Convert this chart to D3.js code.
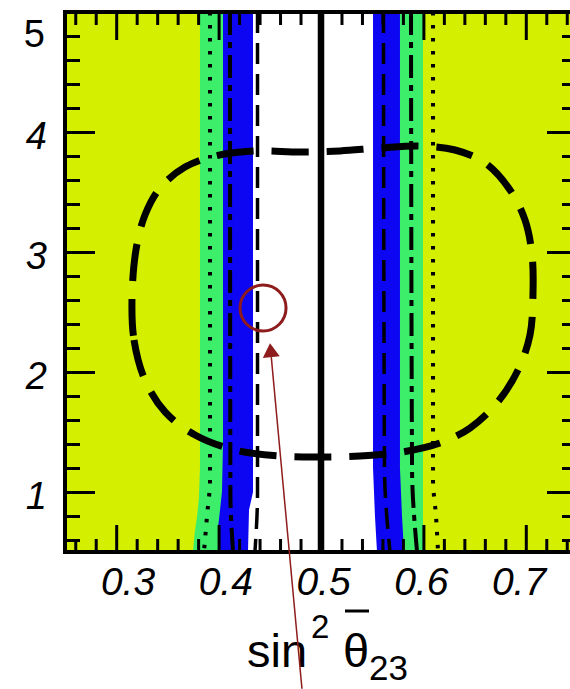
<!DOCTYPE html>
<html><head><meta charset="utf-8">
<script src="https://cdn.jsdelivr.net/npm/d3@7"></script>
<style>
html,body{margin:0;padding:0;background:#fff;}
svg{display:block;}
text{font-family:"Liberation Sans",Arial,Helvetica,sans-serif;fill:#000;}
</style></head><body>
<svg id="chart" width="570" height="689"></svg>
<script>
// ---- data ----
const xDomain = [0.25, 0.75];
const yDomain = [0.5, 5];
const xMajorTicks = [0.3, 0.4, 0.5, 0.6, 0.7];
const xTickLabels = ["0.3", "0.4", "0.5", "0.6", "0.7"];
const yMajorTicks = [1, 2, 3, 4, 5];
const yTickLabels = ["1", "2", "3", "4", "5"];

// coloured allowed bands: boundaries as [y, sin2theta]
const greenLeft  = [[5, 0.3818], [1.2, 0.3818], [0.95, 0.3808], [0.8, 0.3790], [0.65, 0.3765], [0.5, 0.3750]];
const greenRight = [[5, 0.5996], [0.5, 0.5996]];
const blueLeft   = [[5, 0.4043], [1.4, 0.4043], [1.0, 0.4033], [0.85, 0.4014], [0.7, 0.3994], [0.5, 0.3994]];
const blueRight  = [[5, 0.5771], [1.2, 0.5771], [0.8, 0.5791], [0.5, 0.5811]];
const whiteLeft  = [[5, 0.4336], [1.0, 0.4336], [0.85, 0.4297], [0.5, 0.4287]];
const whiteRight = [[5, 0.5508], [1.2, 0.5508], [0.8, 0.5527], [0.5, 0.5547]];

// contour lines: [y, sin2theta]
const dottedLeft   = [[5, 0.3916], [1.1, 0.3916], [0.8, 0.3887], [0.5, 0.3857]];
const dottedRight  = [[5, 0.6094], [1.1, 0.6094], [0.8, 0.6123], [0.5, 0.6143]];
const dashDotLeft  = [[5, 0.4111], [1.0, 0.4115], [0.5, 0.4141]];
const dashDotRight = [[5, 0.5879], [1.2, 0.5889], [0.5, 0.5938]];
const dashLeft     = [[5, 0.4380], [1.0, 0.4380], [0.5, 0.4355]];
const dashRight    = [[5, 0.5610], [1.2, 0.5620], [0.5, 0.5674]];
const bestFit = 0.5;

// closed long-dashed contour: [sin2theta, y]
const contourX = [0.3154,0.3174,0.3281,0.3477,0.3770,0.4160,0.4600,0.4990,0.5381,0.5791,0.6162,0.6455,0.6719,0.6924,0.7041,0.7070,0.7061,0.6992,0.6846,0.6602,0.6309,0.5967,0.5576,0.5186,0.4795,0.4355,0.3965,0.3672,0.3428,0.3281,0.3193];
const contourY = [2.600,2.267,1.933,1.667,1.475,1.350,1.300,1.292,1.300,1.333,1.408,1.533,1.742,2.017,2.308,2.642,2.975,3.267,3.517,3.742,3.850,3.883,3.867,3.842,3.833,3.842,3.800,3.708,3.533,3.308,3.017];

// annotation (red circle + arrow)
const markCircle = [0.4434, 2.533];
const arrowTip = [0.4502, 2.24];
const arrowTail = [0.4814, -0.64];

// ---- drawing ----
const svg = d3.select("#chart");
const L = 65, R = 577, T = 12, B = 552;
const x = d3.scaleLinear().domain(xDomain).range([L, R]);
const y = d3.scaleLinear().domain(yDomain).range([B, T]);
const xLab = d3.scaleLinear().domain([0.3, 0.7]).range([128, 519]);

const YELLOW = "#d4f000", GREEN = "#3cee6a", BLUE = "#0c06f2";

svg.append("defs").append("clipPath").attr("id", "clip")
  .append("rect").attr("x", L).attr("y", T).attr("width", R - L).attr("height", B - T);

const plot = svg.append("g").attr("clip-path", "url(#clip)");
plot.append("rect").attr("x", L).attr("y", T).attr("width", R - L).attr("height", B - T).attr("fill", YELLOW);

const poly = d3.line().x(d => x(d[1])).y(d => y(d[0])).curve(d3.curveLinearClosed);
function band(left, right, color) {
  const pts = left.concat(right.slice().reverse());
  plot.append("path").attr("d", poly(pts)).attr("fill", color);
}
band(greenLeft, greenRight, GREEN);
band(blueLeft, blueRight, BLUE);
band(whiteLeft, whiteRight, "#ffffff");

const vline = d3.line().x(d => x(d[1])).y(d => y(d[0])).curve(d3.curveMonotoneY);
function curve(pts, dash, w) {
  plot.append("path").attr("d", vline(pts)).attr("fill", "none")
    .attr("stroke", "#000").attr("stroke-width", w).attr("stroke-dasharray", dash);
}
curve(dottedLeft, "3.5,9.5", 4);
curve(dottedRight, "3.5,9.5", 4);
curve(dashDotLeft, "23,7,6,7", 4);
curve(dashDotRight, "23,7,6,7", 4);
curve(dashLeft, "21,10", 3.5);
curve(dashRight, "21,10", 3.5);

plot.append("line").attr("x1", x(bestFit)).attr("x2", x(bestFit)).attr("y1", y(5)).attr("y2", y(0.5))
  .attr("stroke", "#000").attr("stroke-width", 6.5);

const contour = contourX.map((v, i) => [v, contourY[i]]);
plot.append("path")
  .attr("d", d3.line().x(d => x(d[0])).y(d => y(d[1])).curve(d3.curveCatmullRomClosed.alpha(0.5))(contour))
  .attr("fill", "none").attr("stroke", "#000").attr("stroke-width", 7)
  .attr("stroke-dasharray", "37,18");

// ---- axes ----
const xMinor = d3.range(0.26, 0.75, 0.02).filter(v => !xMajorTicks.some(m => Math.abs(m - v) < 1e-6));
const yMinor = d3.range(0.6, 5.0, 0.2).filter(v => !yMajorTicks.some(m => Math.abs(m - v) < 1e-6));

function styleAxis(g) {
  g.select(".domain").remove();
  g.selectAll(".tick line").attr("stroke", "#000").attr("stroke-width", 3);
}
svg.append("g").attr("transform", `translate(0,${B})`)
  .call(d3.axisBottom(x).tickValues(xMajorTicks).tickSizeInner(-27).tickSizeOuter(0).tickFormat(""))
  .call(styleAxis);
svg.append("g").attr("transform", `translate(0,${B})`)
  .call(d3.axisBottom(x).tickValues(xMinor).tickSizeInner(-13).tickSizeOuter(0).tickFormat(""))
  .call(styleAxis);
svg.append("g").attr("transform", `translate(0,${T})`)
  .call(d3.axisTop(x).tickValues(xMajorTicks).tickSizeInner(-28).tickSizeOuter(0).tickFormat(""))
  .call(styleAxis);
svg.append("g").attr("transform", `translate(0,${T})`)
  .call(d3.axisTop(x).tickValues(xMinor).tickSizeInner(-13).tickSizeOuter(0).tickFormat(""))
  .call(styleAxis);
svg.append("g").attr("transform", `translate(${L},0)`)
  .call(d3.axisLeft(y).tickValues(yMajorTicks.filter(v => v < 5)).tickSizeInner(-30).tickSizeOuter(0).tickFormat(""))
  .call(styleAxis);
svg.append("g").attr("transform", `translate(${L},0)`)
  .call(d3.axisLeft(y).tickValues(yMinor).tickSizeInner(-15).tickSizeOuter(0).tickFormat(""))
  .call(styleAxis);
svg.append("g").attr("transform", `translate(${R},0)`)
  .call(d3.axisRight(y).tickValues(yMajorTicks.filter(v => v < 5)).tickSizeInner(-30).tickSizeOuter(0).tickFormat(""))
  .call(styleAxis);
svg.append("g").attr("transform", `translate(${R},0)`)
  .call(d3.axisRight(y).tickValues(yMinor).tickSizeInner(-15).tickSizeOuter(0).tickFormat(""))
  .call(styleAxis);

// frame
svg.append("rect").attr("x", L).attr("y", T).attr("width", R - L).attr("height", B - T)
  .attr("fill", "none").attr("stroke", "#000").attr("stroke-width", 4);

// tick labels
svg.append("g").selectAll("text").data(xMajorTicks).join("text")
  .attr("x", d => xLab(d)).attr("y", 595)
  .attr("text-anchor", "middle").attr("font-size", 39).attr("font-style", "italic")
  .text((d, i) => xTickLabels[i]);

svg.append("g").selectAll("text").data(yMajorTicks).join("text")
  .attr("x", d => d === 5 ? 45 : 47)
  .attr("y", d => d === 5 ? 47 : y(d) + 17)
  .attr("text-anchor", "end").attr("font-size", 38)
  .attr("font-style", d => d === 5 ? "normal" : "italic")
  .text((d, i) => yTickLabels[i]);

// axis title  sin^2 θ̄_23
const title = svg.append("g");
title.append("text").attr("x", 247).attr("y", 667).attr("font-size", 47).text("sin");
title.append("text").attr("x", 311).attr("y", 638).attr("font-size", 33).text("2");
title.append("text").attr("x", 343).attr("y", 667).attr("font-size", 47).text("θ");
title.append("line").attr("x1", 345).attr("x2", 369).attr("y1", 611).attr("y2", 611)
  .attr("stroke", "#000").attr("stroke-width", 3);
title.append("text").attr("x", 369).attr("y", 680).attr("font-size", 35).text("23");

// annotation
const RED = "#8e1c1c";
svg.append("circle").attr("cx", x(markCircle[0])).attr("cy", y(markCircle[1])).attr("r", 23)
  .attr("fill", "none").attr("stroke", RED).attr("stroke-width", 3);
const tipX = x(arrowTip[0]), tipY = y(arrowTip[1]);
const tailX = x(arrowTail[0]), tailY = y(arrowTail[1]);
const ang = Math.atan2(tailY - tipY, tailX - tipX);
const hl = 14, hw = 8.5;
const bx = tipX + hl * Math.cos(ang), by = tipY + hl * Math.sin(ang);
svg.append("line").attr("x1", bx).attr("y1", by).attr("x2", tailX).attr("y2", tailY)
  .attr("stroke", RED).attr("stroke-width", 1.5);
svg.append("path").attr("fill", RED)
  .attr("d", `M${tipX},${tipY}L${bx - hw * Math.sin(ang)},${by + hw * Math.cos(ang)}L${bx + hw * Math.sin(ang)},${by - hw * Math.cos(ang)}Z`);
</script>
</body></html>
